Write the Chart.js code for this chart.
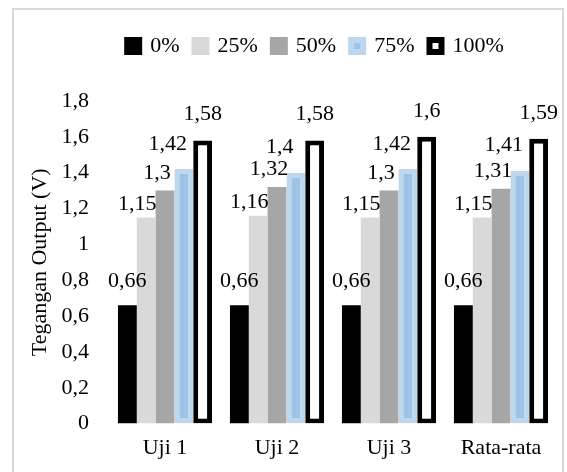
<!DOCTYPE html>
<html>
<head>
<meta charset="utf-8">
<script src="https://cdn.jsdelivr.net/npm/chart.js@4.4.1/dist/chart.umd.min.js"></script>
<style>
  html, body { margin: 0; padding: 0; background: #fff; }
  #wrap { position: relative; width: 567px; height: 472px; overflow: hidden; }
  #frame { position: absolute; left: 12px; top: 8px; width: 552px; height: 480px;
           border: 2px solid #d9d9d9; box-sizing: border-box; }
  #chart { position: absolute; left: 0; top: 0; }
</style>
</head>
<body>
<div id="wrap">
  <div id="frame"></div>
  <canvas id="chart" width="567" height="472"></canvas>
</div>
<script>
// Output voltage per test run and load level
const categories = ['Uji 1', 'Uji 2', 'Uji 3', 'Rata-rata'];
const seriesNames = ['0%', '25%', '50%', '75%', '100%'];
const load0 = [0.66, 0.66, 0.66, 0.66];
const load25 = [1.15, 1.16, 1.15, 1.15];
const load50 = [1.3, 1.32, 1.3, 1.31];
const load75 = [1.42, 1.4, 1.42, 1.41];
const load100 = [1.58, 1.58, 1.6, 1.59];
const yTicks = [0, 0.2, 0.4, 0.6, 0.8, 1, 1.2, 1.4, 1.6, 1.8];

const FONT = '"Liberation Serif", "Times New Roman", serif';
const FS = 22;
const fmt = v => String(Math.round(v * 100) / 100).replace('.', ',');

Chart.defaults.color = '#000';
Chart.defaults.font.family = FONT;
Chart.defaults.font.size = FS;

// Value labels above each bar, with a per-series nudge
const barValueLabels = {
  id: 'barValueLabels',
  afterDatasetsDraw(chart, args, opts) {
    const ctx = chart.ctx;
    ctx.save();
    ctx.font = FS + 'px ' + FONT;
    ctx.fillStyle = '#000';
    ctx.textAlign = 'center';
    ctx.textBaseline = 'alphabetic';
    chart.data.datasets.forEach((ds, i) => {
      const meta = chart.getDatasetMeta(i);
      const off = opts.offsets[i];
      meta.data.forEach((bar, j) => {
        ctx.fillText(fmt(ds.data[j]), bar.x + off[0], bar.y - off[1]);
      });
    });
    ctx.restore();
  }
};

// Extra room under the legend row and a horizontal shift of the row
const legendPlacement = {
  id: 'legendPlacement',
  beforeLayout(chart, args, opts) {
    const lg = chart.legend;
    if (!lg || lg._placed) return;
    lg._placed = true;
    const fit = lg.fit;
    const draw = lg.draw;
    lg.fit = function () { fit.call(this); this.height += opts.gapBelow; };
    lg.draw = function () {
      this.ctx.save();
      this.ctx.translate(opts.shiftX, 0);
      draw.call(this);
      this.ctx.restore();
    };
  }
};

const datasets = [
  { label: seriesNames[0], data: load0, backgroundColor: '#000000', borderColor: '#000000', borderWidth: 0 },
  { label: seriesNames[1], data: load25, backgroundColor: '#d9d9d9', borderColor: '#d9d9d9', borderWidth: 0 },
  { label: seriesNames[2], data: load50, backgroundColor: '#a6a6a6', borderColor: '#a6a6a6', borderWidth: 0 },
  { label: seriesNames[3], data: load75, backgroundColor: '#9dc3e6', borderColor: '#bdd7ee', borderWidth: 5, borderSkipped: false },
  { label: seriesNames[4], data: load100, backgroundColor: '#ffffff', borderColor: '#000000', borderWidth: 5, borderSkipped: false }
];

new Chart(document.getElementById('chart'), {
  type: 'bar',
  data: { labels: categories, datasets },
  options: {
    responsive: false,
    animation: false,
    events: [],
    layout: { padding: { left: 27, right: 10, top: 20, bottom: 0 } },
    datasets: { bar: { categoryPercentage: 0.84, barPercentage: 1.0 } },
    scales: {
      x: {
        grid: { display: false, drawTicks: false },
        border: { display: false },
        ticks: { padding: 11, color: '#000', font: { size: FS, family: FONT } }
      },
      y: {
        min: 0,
        max: 1.8,
        afterBuildTicks: s => { s.ticks = yTicks.map(v => ({ value: v })); },
        afterFit: s => { s.width = 82; },
        grid: { display: false, drawTicks: false },
        border: { display: false },
        ticks: { padding: 20, color: '#000', font: { size: FS, family: FONT }, callback: v => fmt(v) },
        title: { display: true, text: 'Tegangan Output (V)', color: '#000', padding: 0,
                 font: { size: FS, family: FONT } }
      }
    },
    plugins: {
      tooltip: { enabled: false },
      legendPlacement: { gapBelow: 34, shiftX: 23.5 },
      barValueLabels: { offsets: [[0, 18], [-9, 7.5], [-8, 12], [-16, 19.5], [0, 20]] },
      legend: {
        position: 'top',
        labels: {
          boxWidth: 12,
          boxHeight: 12,
          padding: 15,
          color: '#000',
          font: { size: FS, family: FONT },
          generateLabels: chart => chart.data.datasets.map((ds, i) => ({
            text: ds.label,
            fillStyle: ds.backgroundColor,
            strokeStyle: ds.borderColor,
            lineWidth: 6,
            hidden: false,
            datasetIndex: i,
            fontColor: '#000'
          }))
        }
      }
    }
  },
  plugins: [legendPlacement, barValueLabels]
});
</script>
</body>
</html>
